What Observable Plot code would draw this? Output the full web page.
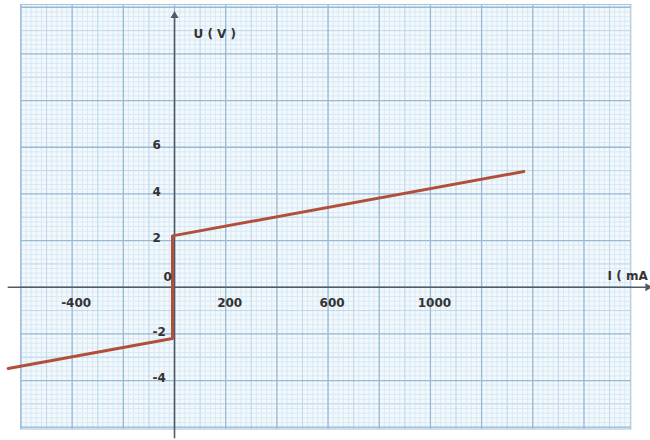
<!DOCTYPE html>
<html>
<head>
<meta charset="utf-8">
<script src="https://cdn.jsdelivr.net/npm/d3@7"></script>
<script src="https://cdn.jsdelivr.net/npm/@observablehq/plot@0.6"></script>
<style>
  html, body { margin: 0; padding: 0; background: #ffffff; }
  #chart svg { display: block; }
</style>
</head>
<body>
<div id="chart"></div>
<script>
// ---- data ----
const currentMA = [-650, -8, -8, 1365];      // I (mA)
const voltageV  = [-3.48, -2.2, 2.2, 4.96];  // U (V)

// tick labels
const xTickLabels = [-400, 200, 600, 1000];
const yTickLabels = [6, 4, 2, -2, -4];
const zeroLabel = ["0"];
const xAxisTitle = "I ( mA";
const yAxisTitle = "U ( V )";

// graph-paper extents and axis extents (in data units)
const paperI = [-600, 1785];
const paperU = [-6.1, 12.1];
const axisI = [-650, 1849];
const axisU = [-6.5, 11.64];

// grid lines
const minorI  = d3.range(-600, 1786, 20);
const mediumI = d3.range(-500, 1786, 200);
const majorI  = d3.range(-600, 1601, 200);
const minorU  = d3.range(-6, 12.01, 0.2).map(v => +v.toFixed(2));
const mediumU = d3.range(-5, 12.01, 2);
const majorU  = d3.range(-6, 12.01, 2);

const curve = currentMA.map((d, i) => ({I: d, U: voltageV[i]}));

const font = "DejaVu Sans, Liberation Sans, sans-serif";

const chart = Plot.plot({
  width: 650,
  height: 440,
  marginTop: 0, marginRight: 0, marginBottom: 0, marginLeft: 0,
  x: {domain: [-680, 1860], axis: null},
  y: {domain: [-6.57, 12.29], axis: null},
  style: {background: "#ffffff", fontFamily: font},
  marks: [
    Plot.rect([0], {x1: paperI[0], x2: paperI[1], y1: paperU[0], y2: paperU[1], fill: "#f2f8fc"}),
    Plot.ruleX(minorI, {y1: paperU[0], y2: paperU[1], stroke: "#d2e6f2", strokeWidth: 0.8}),
    Plot.ruleY(minorU, {x1: paperI[0], x2: paperI[1], stroke: "#d2e6f2", strokeWidth: 0.8}),
    Plot.ruleX(mediumI, {y1: paperU[0], y2: paperU[1], stroke: "#c0d9eb", strokeWidth: 1}),
    Plot.ruleY(mediumU, {x1: paperI[0], x2: paperI[1], stroke: "#c0d9eb", strokeWidth: 1}),
    Plot.ruleX(majorI, {y1: paperU[0], y2: paperU[1], stroke: "#98b9d4", strokeWidth: 1.3}),
    Plot.ruleY(majorU, {x1: paperI[0], x2: paperI[1], stroke: "#98b9d4", strokeWidth: 1.3}),
    Plot.rect([0], {x1: paperI[0], x2: paperI[1], y1: paperU[0], y2: paperU[1], fill: "none", stroke: "#a6c2da", strokeWidth: 1}),
    // axes
    Plot.ruleY([0], {x1: axisI[0], x2: axisI[1], stroke: "#4f5a66", strokeWidth: 1.6}),
    Plot.ruleX([0], {y1: axisU[0], y2: axisU[1], stroke: "#4f5a66", strokeWidth: 1.6}),
    Plot.dot([axisI[1]], {x: d => d, y: 0, symbol: "triangle", r: 3, fill: "#4f5a66", rotate: 90}),
    Plot.dot([axisU[1]], {x: 0, y: d => d, symbol: "triangle", r: 3, fill: "#4f5a66"}),
    // curve
    Plot.line(curve, {x: "I", y: "U", stroke: "#b0503a", strokeWidth: 3, strokeLinejoin: "round"}),
    // tick labels
    Plot.text(xTickLabels, {x: d => d, y: 0, text: d => String(d), dx: 4, dy: 16,
      fontSize: 12, fontWeight: "bold", fill: "#333333", fontFamily: font}),
    Plot.text(yTickLabels, {x: 0, y: d => d, text: d => String(d), textAnchor: "start", dx: -22, dy: -2,
      fontSize: 12, fontWeight: "bold", fill: "#333333", fontFamily: font}),
    Plot.text(zeroLabel, {x: 0, y: 0, text: d => d, textAnchor: "start", dx: -11, dy: -10,
      fontSize: 12, fontWeight: "bold", fill: "#333333", fontFamily: font}),
    // axis titles
    Plot.text([yAxisTitle], {x: 0, y: axisU[1], text: d => d, textAnchor: "start", dx: 19, dy: 18,
      fontSize: 12, fontWeight: "bold", fill: "#333333", fontFamily: font}),
    Plot.text([xAxisTitle], {x: axisI[1], y: 0, text: d => d, textAnchor: "end", dx: 0, dy: -11,
      fontSize: 12, fontWeight: "bold", fill: "#333333", fontFamily: font})
  ]
});

document.getElementById("chart").appendChild(chart);
</script>
</body>
</html>
